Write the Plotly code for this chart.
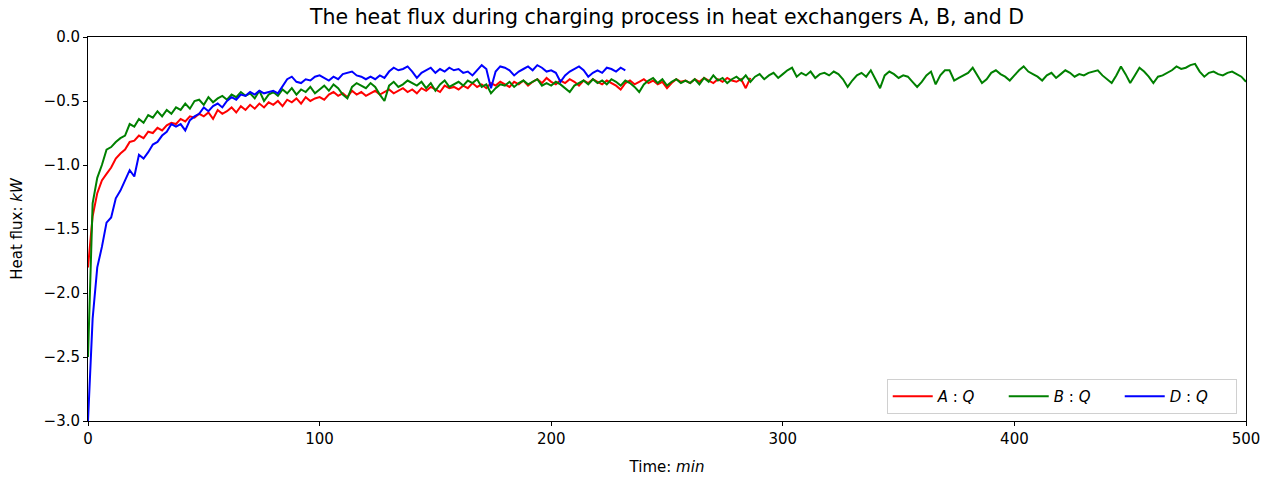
import plotly.graph_objects as go

STEP = 2  # sampling interval (min)

A_Q = [
    -1.80, -1.40, -1.22, -1.12, -1.07, -1.02, -0.95, -0.91, -0.88, -0.82,
    -0.81, -0.77, -0.79, -0.74, -0.75, -0.71, -0.73, -0.69, -0.67, -0.68,
    -0.64, -0.66, -0.62, -0.63, -0.60, -0.62, -0.59, -0.64, -0.57, -0.60,
    -0.58, -0.55, -0.59, -0.54, -0.57, -0.53, -0.56, -0.52, -0.55, -0.51,
    -0.53, -0.50, -0.54, -0.49, -0.51, -0.48, -0.52, -0.47, -0.50, -0.48,
    -0.47, -0.49, -0.45, -0.43, -0.46, -0.44, -0.47, -0.42, -0.45, -0.43,
    -0.46, -0.44, -0.42, -0.45, -0.43, -0.41, -0.44, -0.42, -0.40, -0.43,
    -0.41, -0.44, -0.40, -0.42, -0.39, -0.41, -0.43, -0.38, -0.40, -0.39,
    -0.41, -0.38, -0.40, -0.36, -0.39, -0.37, -0.40, -0.36, -0.38, -0.35,
    -0.37, -0.39, -0.35, -0.37, -0.34, -0.38, -0.35, -0.33, -0.36, -0.32,
    -0.35, -0.37, -0.34, -0.36, -0.33, -0.35, -0.38, -0.34, -0.36, -0.33,
    -0.35, -0.37, -0.34, -0.36, -0.38, -0.41, -0.36, -0.34, -0.37, -0.35,
    -0.33, -0.36, -0.34, -0.37, -0.35, -0.40, -0.36, -0.33, -0.35, -0.34,
    -0.36, -0.33, -0.35, -0.32, -0.34, -0.36, -0.33, -0.35, -0.32, -0.34,
    -0.35, -0.33, -0.40, -0.32,
]

B_Q = [
    -2.50, -1.30, -1.10, -1.00, -0.88, -0.86, -0.82, -0.79, -0.77, -0.68,
    -0.70, -0.64, -0.67, -0.61, -0.63, -0.58, -0.62, -0.57, -0.60, -0.55,
    -0.57, -0.52, -0.56, -0.50, -0.49, -0.53, -0.47, -0.51, -0.48, -0.46,
    -0.49, -0.45, -0.47, -0.43, -0.46, -0.44, -0.48, -0.42, -0.50, -0.45,
    -0.43, -0.46, -0.41, -0.44, -0.40, -0.45, -0.41, -0.43, -0.39, -0.44,
    -0.41, -0.38, -0.42, -0.37, -0.40, -0.45, -0.48, -0.39, -0.36, -0.38,
    -0.40, -0.36, -0.39, -0.45, -0.50, -0.38, -0.35, -0.39, -0.37, -0.34,
    -0.36, -0.38, -0.35, -0.40, -0.36, -0.42, -0.37, -0.34, -0.39, -0.37,
    -0.35, -0.38, -0.34, -0.36, -0.33, -0.39, -0.37, -0.44, -0.40, -0.37,
    -0.38, -0.35, -0.39, -0.36, -0.34, -0.37, -0.35, -0.33, -0.38, -0.36,
    -0.38, -0.35, -0.37, -0.40, -0.43, -0.38, -0.36, -0.34, -0.37, -0.33,
    -0.36, -0.34, -0.37, -0.33, -0.35, -0.38, -0.34, -0.36, -0.39, -0.43,
    -0.37, -0.34, -0.32, -0.36, -0.33, -0.38, -0.35, -0.33, -0.36, -0.34,
    -0.36, -0.33, -0.37, -0.32, -0.35, -0.30, -0.34, -0.32, -0.36, -0.33,
    -0.31, -0.34, -0.30, -0.35, -0.31, -0.29, -0.33, -0.30, -0.28, -0.32,
    -0.29, -0.26, -0.24, -0.31, -0.28, -0.30, -0.27, -0.32, -0.29, -0.28,
    -0.30, -0.27, -0.29, -0.33, -0.39, -0.34, -0.30, -0.28, -0.31, -0.26,
    -0.33, -0.40, -0.30, -0.27, -0.29, -0.32, -0.30, -0.31, -0.35, -0.39,
    -0.35, -0.30, -0.27, -0.37, -0.30, -0.26, -0.26, -0.34, -0.32, -0.30,
    -0.28, -0.24, -0.30, -0.36, -0.33, -0.28, -0.26, -0.29, -0.31, -0.34,
    -0.30, -0.26, -0.23, -0.27, -0.29, -0.31, -0.34, -0.30, -0.28, -0.32,
    -0.29, -0.26, -0.28, -0.31, -0.29, -0.30, -0.28, -0.27, -0.26, -0.30,
    -0.33, -0.36, -0.30, -0.23, -0.29, -0.36, -0.30, -0.24, -0.27, -0.31,
    -0.36, -0.31, -0.30, -0.28, -0.26, -0.23, -0.25, -0.24, -0.22, -0.21,
    -0.27, -0.31, -0.28, -0.27, -0.29, -0.30, -0.28, -0.27, -0.29, -0.31, -0.35,
]

D_Q = [
    -3.00, -2.20, -1.80, -1.64, -1.45, -1.41, -1.26, -1.20, -1.12, -1.04,
    -1.09, -0.92, -0.95, -0.90, -0.84, -0.82, -0.77, -0.74, -0.68, -0.70,
    -0.68, -0.73, -0.65, -0.62, -0.60, -0.55, -0.58, -0.54, -0.52, -0.55,
    -0.50, -0.47, -0.49, -0.45, -0.46, -0.43, -0.45, -0.42, -0.44, -0.43,
    -0.42, -0.44, -0.38, -0.33, -0.31, -0.35, -0.36, -0.33, -0.34, -0.31,
    -0.30, -0.32, -0.34, -0.31, -0.33, -0.29, -0.28, -0.27, -0.30, -0.31,
    -0.33, -0.31, -0.33, -0.30, -0.32, -0.27, -0.24, -0.26, -0.25, -0.23,
    -0.27, -0.32, -0.28, -0.26, -0.24, -0.28, -0.25, -0.27, -0.24, -0.26,
    -0.25, -0.28, -0.27, -0.30, -0.26, -0.22, -0.25, -0.40, -0.27, -0.23,
    -0.24, -0.26, -0.30, -0.27, -0.25, -0.23, -0.26, -0.22, -0.24, -0.27,
    -0.26, -0.28, -0.35, -0.30, -0.27, -0.25, -0.23, -0.26, -0.31, -0.28,
    -0.26, -0.28, -0.24, -0.25, -0.27, -0.24, -0.26,
]

T_A = [i * STEP for i in range(len(A_Q))]
T_B = [i * STEP for i in range(len(B_Q))]
T_D = [i * STEP for i in range(len(D_Q))]

X_TICKS = [0, 100, 200, 300, 400, 500]
Y_TICKS = [-3.0, -2.5, -2.0, -1.5, -1.0, -0.5, 0.0]

FONT = "DejaVu Sans"
TICK_SIZE = 15

fig = go.Figure()
fig.add_trace(go.Scatter(x=T_A, y=A_Q, mode="lines", name="<i>A</i> : <i>Q</i>",
                         line=dict(color="#ff0000", width=2)))
fig.add_trace(go.Scatter(x=T_B, y=B_Q, mode="lines", name="<i>B</i> : <i>Q</i>",
                         line=dict(color="#008000", width=2)))
fig.add_trace(go.Scatter(x=T_D, y=D_Q, mode="lines", name="<i>D</i> : <i>Q</i>",
                         line=dict(color="#0000ff", width=2)))

axis_common = dict(showgrid=False, zeroline=False, showline=True, linecolor="black",
                   linewidth=1, mirror=True, ticks="outside", ticklen=4, tickwidth=1,
                   automargin=False,
                   tickcolor="black", tickfont=dict(family=FONT, size=TICK_SIZE, color="black"))

fig.update_layout(
    width=1269, height=479,
    margin=dict(l=88, r=23, t=37, b=58),
    paper_bgcolor="white", plot_bgcolor="white",
    font=dict(family=FONT, color="black"),
    title=dict(text="The heat flux during charging process in heat exchangers A, B, and D",
               x=(88 + 1158 / 2) / 1269, xanchor="center", y=1 - 17 / 479, yanchor="middle",
               font=dict(family=FONT, size=20.5, color="black")),
    xaxis=dict(range=[0, 500], tickvals=X_TICKS,
               title=dict(text="Time: <i>min</i>", font=dict(family=FONT, size=TICK_SIZE), standoff=14),
               **axis_common),
    yaxis=dict(range=[-3.0, 0.0], tickvals=Y_TICKS, tickformat=".1f",
               title=dict(text="Heat flux: <i>kW</i>", font=dict(family=FONT, size=TICK_SIZE), standoff=17),
               **axis_common),
    legend=dict(orientation="h", x=0.992, y=0.018, xanchor="right", yanchor="bottom",
                bgcolor="rgba(255,255,255,0.8)", bordercolor="#d0d0d0", borderwidth=1,
                font=dict(family=FONT, size=TICK_SIZE, color="black"),
                entrywidth=61, entrywidthmode="pixels", itemwidth=40),
    showlegend=True,
)

fig.write_html("out.html")
